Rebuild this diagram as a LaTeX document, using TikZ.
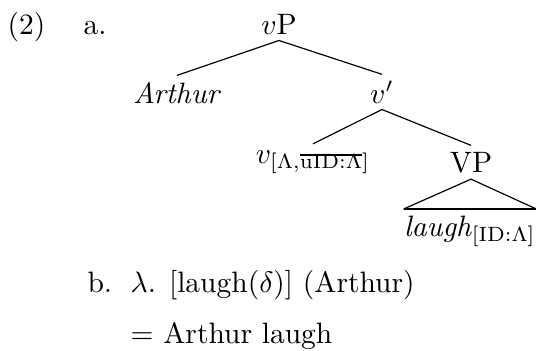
\documentclass[tikz,border=0pt]{standalone}
\usepackage{amsmath,amssymb}
\usetikzlibrary{positioning}
\newcommand{\strk}[1]{\sbox0{#1}\rlap{\rule[4.2pt]{\wd0}{0.5pt}}\usebox0}

\begin{document}
\begin{tikzpicture}[x=0.339pt, y=-0.339pt, t/.style={anchor=base, inner sep=2pt}, lbl/.style={anchor=base west, inner sep=0pt}]
\useasboundingbox (0,0) rectangle (536,350);
\node[lbl] (num) at (7,34) {(2)};
\node[lbl] (a) at (83,34) {a.};
\node[t] (vP) at (279,34) {$v$P};
\node[t] (Arthur) at (177,103) {\textit{Arthur}};
\node[t] (vbar) at (382,103) {$v'$};
\node[t] (v) at (313,163) {$v_{[\Lambda,\text{\strk{uID:$\Lambda$}}]}$};
\node[t] (VP) at (471,172) {VP};
\node[t, inner xsep=0pt] (laugh) at (470,236) {\textit{laugh}$_{[\mathrm{ID{:}\Lambda}]}$};
\draw (vP.south) -- (Arthur.north);
\draw (vP.south) -- (vbar.north);
\draw (vbar.south) -- (v.north);
\draw (vbar.south) -- (VP.north);
\draw (laugh.north west) -- (VP.south) -- (laugh.north east);
\draw[thick] (laugh.north west) -- (laugh.north east);
\node[lbl] (b) at (87,292) {b.};
\node[lbl] (sem) at (130,292) {$\lambda$. [laugh($\delta$)] (Arthur)};
\node[lbl] (res) at (130,343) {$=$ Arthur laugh};
\end{tikzpicture}
\end{document}
